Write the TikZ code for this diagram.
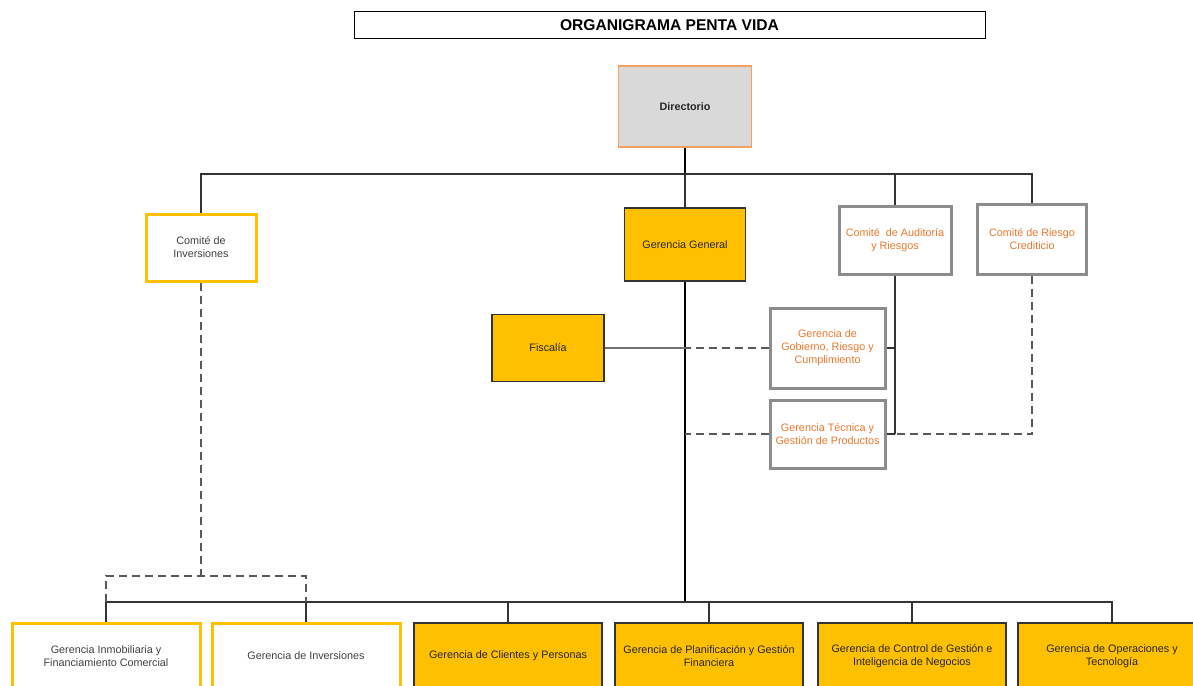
\documentclass[tikz,border=0pt]{standalone}
\usepackage{fontspec}
\setmainfont{Liberation Sans}
\usetikzlibrary{calc}
\definecolor{gold}{HTML}{FFC000}
\definecolor{orangetext}{HTML}{E8782E}
\definecolor{greyline}{HTML}{8C8C8C}
\definecolor{dirfill}{HTML}{D9D9D9}
\definecolor{dirline}{HTML}{F4A060}
\tikzset{
  box/.style={rectangle, align=center, inner sep=2pt, font=\fontsize{10.8}{13}\selectfont},
  dirbox/.style={box, fill=dirfill, draw=dirline, line width=1.5pt, text=black!85},
  goldbox/.style={box, fill=gold, draw=black!80, line width=1.4pt, text=black!85},
  whitebox/.style={box, fill=white, draw=gold, line width=3pt, text=black!75},
  comite/.style={box, fill=white, draw=greyline, line width=3pt, text=orangetext},
  link/.style={draw=black!80, line width=1.8pt},
  trunk/.style={draw=black, line width=2.8pt},
  dashlink/.style={draw=black!65, line width=1.8pt, dash pattern=on 8pt off 5pt},
}

\begin{document}
\begin{tikzpicture}[x=1pt, y=-1pt]
  \clip (0,0) rectangle (1193,685);
  \fill[white] (0,0) rectangle (1193,685);
  %title
  \node[box, draw=black, line width=1pt, minimum width=631, minimum height=27,
        font=\fontsize{15.6}{17}\selectfont\bfseries] (T) at (669.5,25.5) {ORGANIGRAMA PENTA VIDA};

  \node[dirbox, minimum width=133, minimum height=81] (A) at (685,106.5) {\textbf{Directorio}};
  \node[goldbox, minimum width=121, minimum height=73] (B) at (685,244.5) {Gerencia General};
  \node[whitebox, minimum width=110, minimum height=67] (C) at (201,247.5) {Comité de\\Inversiones};
  \node[comite, minimum width=112, minimum height=68] (D) at (895,240) {Comité \ de Auditoría\\y Riesgos};
  \node[comite, minimum width=109, minimum height=70] (E) at (1032,239) {Comité de Riesgo\\Crediticio};
  \node[goldbox, minimum width=112, minimum height=67] (F) at (548,348) {Fiscalía};
  \node[comite, minimum width=115, minimum height=80] (G) at (827.5,348) {Gerencia de\\Gobierno, Riesgo y\\Cumplimiento};
  \node[comite, minimum width=115, minimum height=68] (H) at (827.5,434) {Gerencia Técnica y\\Gestión de Productos};

  %bottom row
  \node[whitebox, minimum width=188, minimum height=66] (I) at (106,656) {Gerencia Inmobiliaria y\\Financiamiento Comercial};
  \node[whitebox, minimum width=188, minimum height=66] (J) at (306,656) {Gerencia de Inversiones};
  \node[goldbox, minimum width=188, minimum height=66] (K) at (508,656) {Gerencia de Clientes y Personas};
  \node[goldbox, minimum width=188, minimum height=66] (L) at (709,656) {Gerencia de Planificación y Gestión\\Financiera};
  \node[goldbox, minimum width=188, minimum height=66] (M) at (912,656) {Gerencia de Control de Gestión e\\Inteligencia de Negocios};
  \node[goldbox, minimum width=188, minimum height=66] (N) at (1112,656) {Gerencia de Operaciones y\\Tecnología};

  \coordinate (top) at (685,174);
  \coordinate (bus) at (685,602);
  \coordinate (split) at (201,576);

  \draw[trunk] (A.south) -- (top);
  \draw[link] (top) -- (B.north);
  \draw[link] (C.north) |- (top) -| (E.north);
  \draw[link] (D.north) -- (D.north |- top);
  \draw[trunk] (B.south) -- (bus);
  \draw[link] (I.north) |- (bus) -| (N.north);
  \foreach \n in {J,K,L,M}
    \draw[link] (\n.north) -- (\n.north |- bus);

  \draw[link, draw=black!55, line width=2pt] (F.east) -- (F.east -| B.south);
  \draw[dashlink] (G.west) -- (G.west -| B.south);
  \draw[dashlink] (H.west) -- (H.west -| B.south);
  \draw[link] (D.south) -- (D.south |- H.east);
  \draw[link] (G.east) -- (G.east -| D.south);
  \draw[link] (H.east) -- (H.east -| D.south);
  \draw[dashlink] (E.south) |- (H.east -| D.south);

  \draw[dashlink] (C.south) -- (split);
  \draw[dashlink] (I.north |- bus) |- (split) -| (J.north |- bus);
\end{tikzpicture}
\end{document}
